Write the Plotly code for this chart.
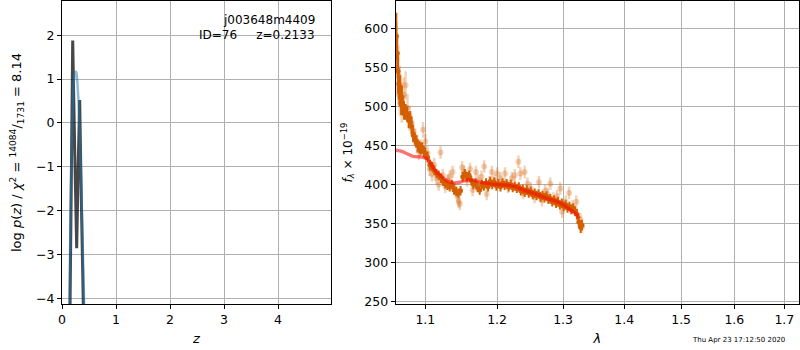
import plotly.graph_objects as go
import math

# ---------------- data ----------------
# left panel: log p(z)
z_chi2 = [0.148, 0.175, 0.198, 0.235, 0.272, 0.300, 0.327, 0.360, 0.397]
logp_chi2 = [-4.3, -1.0, 1.88, -0.6, -2.86, -1.0, 0.52, -1.9, -4.3]

z_prior = [0.136, 0.155, 0.175, 0.195, 0.215, 0.235, 0.250, 0.265, 0.280, 0.300, 0.320, 0.340, 0.360, 0.380, 0.400, 0.412]
logp_prior = [-4.3, -2.4, -0.9, 0.2, 0.85, 1.12, 1.17, 1.15, 1.0, 0.62, 0.05, -0.7, -1.6, -2.6, -3.7, -4.3]

obj_name = "j003648m4409"
obj_id = 76
z_best = 0.2133
chi2_num, chi2_den, chi2_red = 14084, 1731, 8.14
timestamp = "Thu Apr 23 17:12:50 2020"

# right panel: spectrum (primary beam)
wave_a = [1.0620, 1.0632, 1.0642, 1.0652, 1.0662, 1.0672, 1.0682, 1.0692, 1.0705, 1.0720,
          1.0740, 1.0760, 1.0780, 1.0800, 1.0820, 1.0840, 1.0860, 1.0880, 1.0900, 1.0920,
          1.0940, 1.0960, 1.0980, 1.1000, 1.1030, 1.1060, 1.1090, 1.1120, 1.1150, 1.1180,
          1.1210, 1.1240, 1.1270, 1.1300, 1.1330, 1.1360, 1.1390, 1.1420, 1.1450, 1.1480,
          1.1510, 1.1540, 1.1570, 1.1600, 1.1630, 1.1660, 1.1690, 1.1720, 1.1750, 1.1780,
          1.1810, 1.1840, 1.1870, 1.1900, 1.1930, 1.1960, 1.1990, 1.2020, 1.2050, 1.2080,
          1.2110, 1.2140, 1.2170, 1.2200, 1.2230, 1.2260, 1.2290, 1.2320, 1.2350, 1.2380,
          1.2410, 1.2440, 1.2470, 1.2500, 1.2530, 1.2560, 1.2590, 1.2620, 1.2650, 1.2680,
          1.2710, 1.2740, 1.2770, 1.2800, 1.2830, 1.2860, 1.2890, 1.2920, 1.2950, 1.2980,
          1.3010, 1.3040, 1.3070, 1.3100, 1.3130, 1.3160, 1.3190, 1.3220, 1.3250, 1.3280, 1.3300]
flux_a = [590, 568, 545, 529, 518, 525, 504, 512, 500, 495,
          493, 491, 482, 485, 474, 463, 459, 455, 450, 448,
          446, 447, 442, 440, 435, 425, 423, 418, 414, 412,
          408, 404, 401, 399, 397, 400, 393, 391, 389, 392,
          410, 414, 410, 412, 405, 400, 402, 396, 393, 400,
          398, 402, 397, 404, 400, 403, 398, 401, 397, 402,
          399, 401, 397, 400, 396, 398, 395, 397, 392, 394,
          390, 393, 389, 391, 387, 389, 386, 388, 384, 386,
          383, 385, 381, 382, 378, 380, 376, 378, 374, 376,
          372, 374, 370, 372, 368, 370, 366, 362, 352, 345, 348]
err_a = [30, 25, 25, 20, 18, 15, 15, 14, 12, 12,
         10, 10, 10, 9, 9, 9, 8, 8, 8, 8,
         8, 7, 7, 7, 7, 7, 6, 6, 6, 6,
         6, 6, 6, 6, 6, 6, 6, 6, 6, 6,
         6, 6, 6, 6, 6, 6, 6, 6, 6, 6,
         6, 6, 6, 6, 6, 6, 6, 6, 6, 6,
         6, 6, 6, 6, 6, 6, 6, 6, 6, 6,
         6, 6, 6, 6, 6, 6, 6, 6, 6, 6,
         6, 6, 6, 6, 6, 6, 6, 6, 6, 6,
         6, 6, 6, 6, 6, 6, 6, 7, 7, 7, 7]

# right panel: spectrum (secondary beam, faint)
wave_b = [1.0625, 1.0645, 1.0665, 1.0690, 1.0715, 1.0740, 1.0765, 1.0790, 1.0815, 1.0840,
          1.0865, 1.0890, 1.0915, 1.0940, 1.0970, 1.1000, 1.1030, 1.1060, 1.1090, 1.1120,
          1.1150, 1.1180, 1.1205, 1.1235, 1.1270, 1.1300, 1.1330, 1.1370, 1.1400, 1.1435,
          1.1454, 1.1470, 1.1502, 1.1530, 1.1570, 1.1614, 1.1650, 1.1696, 1.1730, 1.1775,
          1.1814, 1.1850, 1.1890, 1.1925, 1.1960, 1.2000, 1.2050, 1.2116, 1.2160, 1.2216,
          1.2260, 1.2315, 1.2345, 1.2383, 1.2408, 1.2450, 1.2500, 1.2558, 1.2625, 1.2670,
          1.2720, 1.2760, 1.2800, 1.2850, 1.2905, 1.2955, 1.2985, 1.3040, 1.3095, 1.3150,
          1.3210, 1.3275, 1.3302]
flux_b = [560, 540, 520, 505, 515, 527, 498, 485, 478, 468,
          460, 452, 443, 448, 470, 455, 440, 420, 413, 425,
          408, 400, 441, 412, 397, 405, 410, 416, 395, 385,
          378, 375, 422, 416, 405, 420, 393, 416, 405, 410,
          423, 388, 403, 416, 405, 414, 408, 414, 397, 408,
          412, 429, 414, 389, 416, 401, 395, 384, 403, 380,
          392, 388, 401, 382, 385, 395, 365, 378, 389, 372,
          378, 356, 346]
err_b = [48, 38, 32, 26, 22, 18, 18, 16, 14, 14,
         12, 12, 12, 10, 10, 10, 9, 9, 9, 9,
         8, 8, 8, 8, 8, 8, 8, 8, 8, 8,
         8, 8, 8, 8, 8, 8, 8, 8, 8, 8,
         8, 8, 8, 8, 8, 8, 8, 8, 8, 8,
         8, 8, 8, 8, 8, 8, 8, 8, 8, 8,
         8, 8, 8, 8, 8, 8, 8, 8, 8, 8,
         8, 8, 8]

# right panel: best-fit model
wave_model = [1.0616, 1.0670, 1.0770, 1.0840, 1.0930, 1.1020, 1.1060, 1.1100, 1.1150, 1.1200,
              1.1280, 1.1340, 1.1390, 1.1470, 1.1540, 1.1610, 1.1680, 1.1760, 1.1900, 1.2000,
              1.2100, 1.2240, 1.2390, 1.2550, 1.2760, 1.2960, 1.3110, 1.3220, 1.3250]
flux_model = [444, 443, 439, 436, 435.5, 433, 429, 422.6, 416, 412,
              405.5, 403, 402, 403, 405, 406, 405, 403, 401, 400,
              399.5, 398, 393, 388.5, 382, 376, 368, 361, 357]

x_ticks_right = [1.1, 1.2, 1.3, 1.4, 1.5, 1.6, 1.7]
y_ticks_right = [250, 300, 350, 400, 450, 500, 550, 600]
x_ticks_left = [0, 1, 2, 3, 4]
y_ticks_left = [-4, -3, -2, -1, 0, 1, 2]

# ---------------- figure ----------------
W, H = 800, 350
FONT = "DejaVu Sans"
ORANGE = "rgb(211,95,0)"

fig = go.Figure()

fig.add_trace(go.Scatter(x=z_chi2, y=logp_chi2, mode="lines",
                         line=dict(color="rgba(0,0,0,0.72)", width=3),
                         xaxis="x", yaxis="y", showlegend=False))
fig.add_trace(go.Scatter(x=z_prior, y=logp_prior, mode="lines",
                         line=dict(color="rgba(31,119,180,0.5)", width=2.5, shape="spline"),
                         xaxis="x", yaxis="y", showlegend=False))

fig.add_trace(go.Scatter(x=wave_b, y=flux_b, mode="markers",
                         marker=dict(color="rgba(211,95,0,0.28)", size=6),
                         error_y=dict(type="data", array=err_b, color="rgba(211,95,0,0.28)",
                                      thickness=2.5, width=0),
                         xaxis="x2", yaxis="y2", showlegend=False))
fig.add_trace(go.Scatter(x=wave_a, y=flux_a, mode="markers",
                         marker=dict(color=ORANGE, size=5),
                         error_y=dict(type="data", array=err_a, color=ORANGE,
                                      thickness=2, width=0),
                         xaxis="x2", yaxis="y2", showlegend=False))
fig.add_trace(go.Scatter(x=wave_model, y=flux_model, mode="lines",
                         line=dict(color="rgba(255,0,0,0.55)", width=3.5, shape="spline"),
                         xaxis="x2", yaxis="y2", showlegend=False))

axis_common = dict(showline=True, linecolor="black", linewidth=1, mirror=True,
                   ticks="outside", ticklen=4, tickcolor="black", tickwidth=1,
                   showgrid=True, gridcolor="#b0b0b0", gridwidth=1, zeroline=False,
                   automargin=False,
                   tickfont=dict(family=FONT, size=12.5, color="black"))

ydom = [(H - 304) / H, (H - 1) / H]

fig.update_layout(
    width=W, height=H,
    margin=dict(l=0, r=0, t=0, b=0, autoexpand=False),
    paper_bgcolor="white", plot_bgcolor="white",
    font=dict(family=FONT, size=12.5, color="black"),
    xaxis=dict(axis_common, domain=[62 / W, 331 / W], range=[0, 4.98], anchor="y",
               tickvals=x_ticks_left, ticktext=[str(v) for v in x_ticks_left],
               title=dict(text="<i>z</i>", font=dict(family=FONT, size=13), standoff=7)),
    yaxis=dict(axis_common, domain=ydom, range=[-4.13, 2.78], anchor="x",
               tickvals=y_ticks_left, ticktext=[("−" + str(-v)) if v < 0 else str(v) for v in y_ticks_left],
               title=dict(text="log <i>p</i>(<i>z</i>) / <i>χ</i><sup>2</sup> = <sup>%d</sup>/<sub>%d</sub> = %.2f"
                          % (chi2_num, chi2_den, chi2_red),
                          font=dict(family=FONT, size=13), standoff=11)),
    xaxis2=dict(axis_common, domain=[395.7 / W, 799 / W], type="log", anchor="y2",
                range=[math.log10(1.0612), math.log10(1.7305)],
                tickvals=x_ticks_right, ticktext=["%.1f" % v for v in x_ticks_right],
                title=dict(text="<i>λ</i>", font=dict(family=FONT, size=13), standoff=7)),
    yaxis2=dict(axis_common, domain=ydom, range=[247, 635], anchor="x2",
                tickvals=y_ticks_right, ticktext=[str(v) for v in y_ticks_right],
                title=dict(text="<i>f</i><sub><i>λ</i></sub> × 10<sup>−19</sup>",
                           font=dict(family=FONT, size=12), standoff=9)),
    annotations=[
        dict(text=obj_name, xref="paper", yref="paper", x=317 / W, y=(H - 20) / H,
             xanchor="right", yanchor="middle", showarrow=False,
             font=dict(family=FONT, size=12, color="black")),
        dict(text="ID=%d&nbsp;&nbsp;&nbsp;&nbsp;&nbsp;z=%.4f" % (obj_id, z_best),
             xref="paper", yref="paper", x=317 / W, y=(H - 35) / H,
             xanchor="right", yanchor="middle", showarrow=False,
             font=dict(family=FONT, size=12, color="black")),
        dict(text=timestamp, xref="paper", yref="paper", x=787 / W, y=(H - 340) / H,
             xanchor="right", yanchor="middle", showarrow=False,
             font=dict(family=FONT, size=7, color="black")),
    ],
)

fig.write_html("out.html", config={"displayModeBar": False},
               post_script="document.body.style.margin='0';document.body.style.overflow='hidden';")
